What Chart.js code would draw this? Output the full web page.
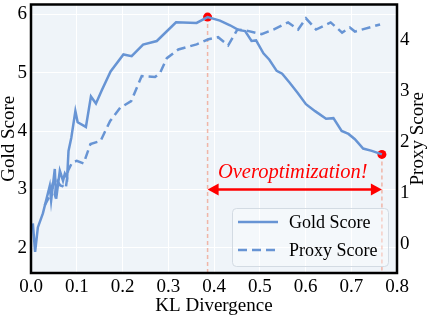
<!DOCTYPE html>
<html>
<head>
<meta charset="utf-8">
<script src="https://cdn.jsdelivr.net/npm/chart.js@4.4.0/dist/chart.umd.min.js"></script>
<style>
    html, body { margin: 0; padding: 0; background: #fff; }
    #wrap { width: 428px; height: 316px; }
</style>
</head>
<body>
<div id="wrap"><canvas id="chart" width="428" height="316"></canvas></div>
<script>
// Datos
const goldKL = [0.004, 0.009, 0.015, 0.026, 0.033, 0.041, 0.044, 0.052, 0.055, 0.063, 0.070, 0.074, 0.079, 0.082, 0.088,
    0.097, 0.102, 0.120, 0.131, 0.142, 0.155, 0.174, 0.202, 0.220, 0.245, 0.275, 0.317, 0.362, 0.386, 0.413, 0.435,
    0.453, 0.468, 0.482, 0.492, 0.508, 0.521, 0.537, 0.549, 0.565, 0.583, 0.601, 0.621, 0.645, 0.661, 0.679, 0.694,
    0.708, 0.726, 0.745, 0.767];
const goldScore = [2.42, 1.93, 2.35, 2.59, 2.81, 3.06, 2.81, 3.35, 2.84, 3.32, 3.15, 3.27, 3.20, 3.66, 3.88,
    4.34, 4.15, 4.07, 4.59, 4.47, 4.70, 5.02, 5.31, 5.28, 5.48, 5.54, 5.86, 5.85, 5.95, 5.89, 5.81,
    5.73, 5.71, 5.54, 5.55, 5.33, 5.22, 5.03, 4.98, 4.83, 4.65, 4.46, 4.34, 4.21, 4.22, 4.00, 3.95,
    3.86, 3.70, 3.66, 3.60];

const proxyKL = [0.030, 0.040, 0.046, 0.052, 0.058, 0.064, 0.070, 0.076, 0.081, 0.090, 0.100, 0.115, 0.130, 0.152,
    0.173, 0.195, 0.219, 0.242, 0.271, 0.282, 0.297, 0.322, 0.362, 0.388, 0.409, 0.431, 0.451, 0.471, 0.504,
    0.530, 0.562, 0.584, 0.601, 0.623, 0.655, 0.680, 0.697, 0.708, 0.763];
const proxyScore = [0.76, 0.93, 1.13, 0.97, 1.23, 1.15, 1.13, 1.09, 1.44, 1.60, 1.63, 1.58, 1.96, 2.02,
    2.41, 2.67, 2.80, 3.29, 3.27, 3.35, 3.64, 3.81, 3.91, 4.01, 4.05, 3.89, 4.20, 4.18, 4.11,
    4.20, 4.34, 4.20, 4.42, 4.20, 4.34, 4.14, 4.24, 4.16, 4.30];

const xTicks = [0, 0.1, 0.2, 0.3, 0.4, 0.5, 0.6, 0.7, 0.8];
const goldTicks = [2, 3, 4, 5, 6];
const proxyTicks = [0, 1, 2, 3, 4];

// puntos marcados (pico del gold y final)
const markKL = [0.386, 0.767];
const markGold = [5.95, 3.60];
const arrowGold = 3.0;
const noteText = 'Overoptimization!';

const azul = '#6794d4';
const rojo = '#ff0000';
const fuente = '"Liberation Serif", "DejaVu Serif", serif';

// fondo del area
const fondoPlugin = {
    id: 'fondo',
    beforeDraw(chart) {
        const a = chart.chartArea, c = chart.ctx;
        c.save();
        c.fillStyle = '#eff4f9';
        c.fillRect(a.left, a.top, a.right - a.left, a.bottom - a.top);
        c.restore();
    },
    beforeDatasetsDraw(chart) {
        // lineas verticales discontinuas
        const c = chart.ctx, x = chart.scales.x, y = chart.scales.y;
        c.save();
        c.strokeStyle = 'rgba(240,160,140,0.75)';
        c.lineWidth = 1.5;
        c.setLineDash([4, 3]);
        markKL.forEach((k, i) => {
            const px = x.getPixelForValue(k);
            c.beginPath();
            c.moveTo(px, y.getPixelForValue(markGold[i]));
            c.lineTo(px, chart.chartArea.bottom);
            c.stroke();
        });
        c.restore();
    },
    afterDatasetsDraw(chart) {
        const c = chart.ctx, x = chart.scales.x, y = chart.scales.y;
        const x1 = x.getPixelForValue(markKL[0]);
        const x2 = x.getPixelForValue(markKL[1]);
        const py = y.getPixelForValue(arrowGold);
        c.save();
        // flecha doble
        c.strokeStyle = rojo;
        c.fillStyle = rojo;
        c.lineWidth = 2.5;
        c.beginPath();
        c.moveTo(x1 + 8, py);
        c.lineTo(x2 - 8, py);
        c.stroke();
        c.beginPath();
        c.moveTo(x1, py);
        c.lineTo(x1 + 11, py - 6);
        c.lineTo(x1 + 11, py + 6);
        c.closePath();
        c.fill();
        c.beginPath();
        c.moveTo(x2, py);
        c.lineTo(x2 - 11, py - 6);
        c.lineTo(x2 - 11, py + 6);
        c.closePath();
        c.fill();
        // texto
        c.font = 'italic 20.5px ' + fuente;
        c.textAlign = 'center';
        c.textBaseline = 'middle';
        c.fillText(noteText, (x1 + x2) / 2 - 2, py - 17);

        // leyenda
        const lx = 232, ly = 208, lw = 156, lh = 58;
        c.fillStyle = 'rgba(255,255,255,0.35)';
        c.strokeStyle = '#d3dbe3';
        c.lineWidth = 1;
        c.setLineDash([]);
        c.beginPath();
        c.roundRect(lx + 0.5, ly + 0.5, lw, lh, 4);
        c.fill();
        c.stroke();
        const items = chart.data.datasets.slice(0, 2);
        items.forEach((ds, i) => {
            const cy = ly + 14 + i * 28;
            c.strokeStyle = ds.borderColor;
            c.lineWidth = ds.borderWidth;
            c.setLineDash(ds.borderDash || []);
            c.beginPath();
            c.moveTo(lx + 6, cy);
            c.lineTo(lx + 46, cy);
            c.stroke();
            c.setLineDash([]);
            c.fillStyle = '#000';
            c.font = '18px ' + fuente;
            c.textAlign = 'left';
            c.textBaseline = 'middle';
            c.fillText(ds.label, lx + 57, cy + 1);
        });
        c.restore();
    },
    afterDraw(chart) {
        const a = chart.chartArea, c = chart.ctx;
        c.save();
        c.strokeStyle = '#000';
        c.lineWidth = 2.5;
        c.strokeRect(a.left, a.top, a.right - a.left, a.bottom - a.top);
        // titulo eje derecho (lectura de abajo hacia arriba)
        c.translate(418, (a.top + a.bottom) / 2);
        c.rotate(-Math.PI / 2);
        c.fillStyle = '#000';
        c.font = '19px ' + fuente;
        c.textAlign = 'center';
        c.textBaseline = 'middle';
        c.fillText('Proxy Score', 0, 0);
        c.restore();
    }
};

const ctx = document.getElementById('chart').getContext('2d');
new Chart(ctx, {
    type: 'line',
    data: {
        datasets: [{
            label: 'Gold Score',
            data: goldKL.map((k, i) => ({x: k, y: goldScore[i]})),
            yAxisID: 'y',
            borderColor: azul,
            borderWidth: 2.5,
            pointRadius: 0,
            tension: 0
        }, {
            label: 'Proxy Score',
            data: proxyKL.map((k, i) => ({x: k, y: proxyScore[i]})),
            yAxisID: 'y1',
            borderColor: azul,
            borderWidth: 2.5,
            borderDash: [9, 5],
            pointRadius: 0,
            tension: 0
        }, {
            label: 'marks',
            type: 'scatter',
            data: markKL.map((k, i) => ({x: k, y: markGold[i]})),
            yAxisID: 'y',
            pointRadius: 4.5,
            backgroundColor: rojo,
            borderWidth: 0
        }]
    },
    options: {
        responsive: false,
        animation: false,
        devicePixelRatio: 1,
        layout: {padding: {top: 3, left: 0, right: 0, bottom: 0}},
        plugins: {legend: {display: false}, tooltip: {enabled: false}},
        scales: {
            x: {
                type: 'linear', min: 0, max: 0.8,
                afterBuildTicks: s => { s.ticks = xTicks.map(v => ({value: v})); },
                afterFit: s => { s.height = 43; s.paddingLeft = 0; s.paddingRight = 0; },
                ticks: {font: {family: fuente, size: 19}, color: '#000', padding: 3, maxRotation: 0, autoSkip: false,
                    callback: v => v.toFixed(1)},
                grid: {color: '#ffffff', lineWidth: 1, drawTicks: false},
                border: {display: false},
                title: {display: true, text: 'KL Divergence', font: {family: fuente, size: 19, lineHeight: 1},
                    color: '#000', padding: {top: 0, bottom: 0}}
            },
            y: {
                position: 'left', min: 1.57, max: 6.165,
                afterBuildTicks: s => { s.ticks = goldTicks.map(v => ({value: v})); },
                afterFit: s => { s.width = 31; s.paddingTop = 0; s.paddingBottom = 0; },
                ticks: {font: {family: fuente, size: 19}, color: '#000', padding: 4},
                grid: {color: '#ffffff', lineWidth: 1, drawTicks: false},
                border: {display: false},
                title: {display: true, text: 'Gold Score', font: {family: fuente, size: 19, lineHeight: 1},
                    color: '#000', padding: {top: 0, bottom: 0}}
            },
            y1: {
                position: 'right', min: -0.564, max: 4.69,
                afterBuildTicks: s => { s.ticks = proxyTicks.map(v => ({value: v})); },
                afterFit: s => { s.width = 31; s.paddingTop = 0; s.paddingBottom = 0; },
                ticks: {font: {family: fuente, size: 19}, color: '#000', padding: 3},
                grid: {display: false, drawTicks: false},
                border: {display: false}
            }
        }
    },
    plugins: [fondoPlugin]
});
</script>
</body>
</html>
